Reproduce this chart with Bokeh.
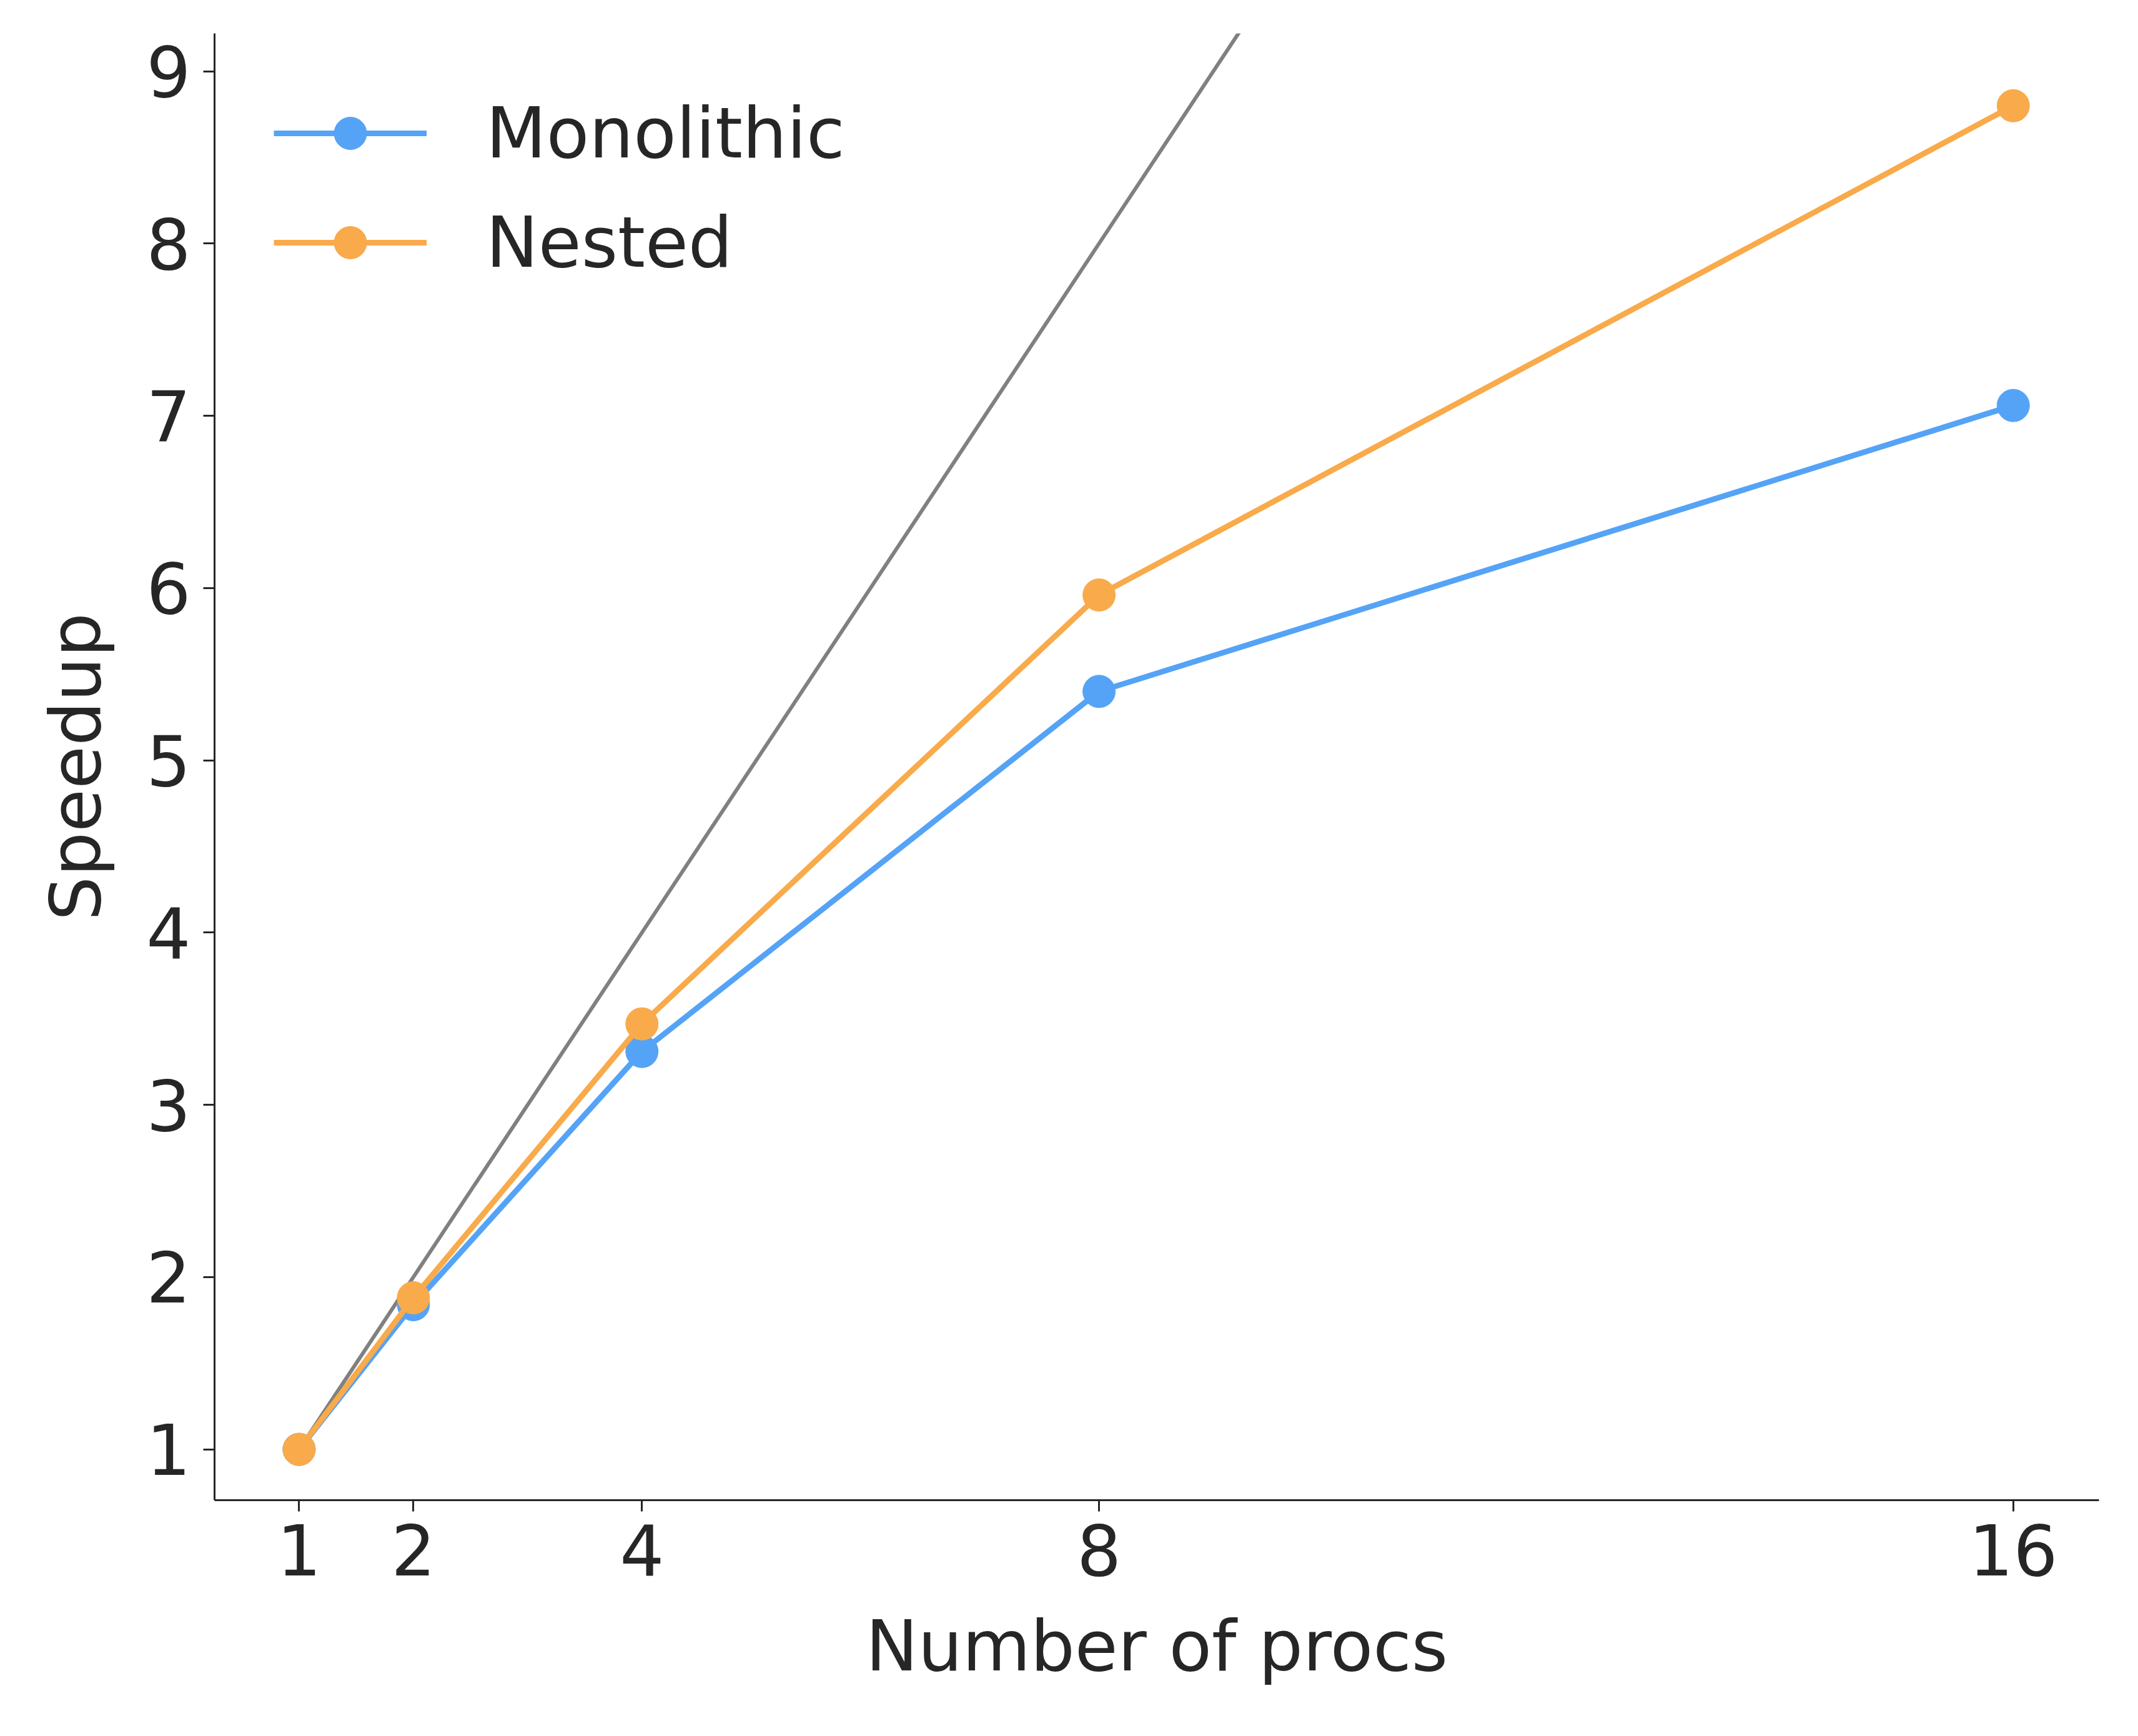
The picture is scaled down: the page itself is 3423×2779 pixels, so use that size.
from bokeh.plotting import figure
from bokeh.models import FixedTicker, Range1d, Legend, LegendItem
from bokeh.embed import file_html
from bokeh.resources import INLINE

procs = [1, 2, 4, 8, 16]
monolithic = [1.0, 1.84, 3.31, 5.40, 7.06]
nested = [1.0, 1.88, 3.47, 5.96, 8.80]
ideal_x = [1, 10]
ideal_y = [1, 10]
yticks = [1, 2, 3, 4, 5, 6, 7, 8, 9]

W, H = 3407, 2763
p = figure(width=W, height=H, output_backend="svg", toolbar_location=None,
           x_range=Range1d(0.26, 16.75), y_range=Range1d(0.705, 9.22),
           min_border_left=343, min_border_right=47, min_border_top=53, min_border_bottom=362)
p.outline_line_color = None
p.grid.visible = False
p.background_fill_color = "white"

p.line(ideal_x, ideal_y, line_color="#808080", line_width=6)
blue = "#55a3f6"
orange = "#f9aa4a"
r1 = p.line(procs, monolithic, line_color=blue, line_width=9)
s1 = p.scatter(procs, monolithic, size=52, color=blue)
r2 = p.line(procs, nested, line_color=orange, line_width=9)
s2 = p.scatter(procs, nested, size=52, color=orange)

legend = Legend(items=[LegendItem(label="Monolithic", renderers=[r1, s1]),
                       LegendItem(label="Nested", renderers=[r2, s2])],
                location="top_left", border_line_color=None, background_fill_alpha=0,
                label_text_font="DejaVu Sans", label_text_font_size="112px",
                label_text_color="#262626", glyph_width=245, glyph_height=130,
                label_standoff=95, spacing=45, margin=95, padding=20)
p.add_layout(legend)

for ax in (p.xaxis, p.yaxis):
    ax.axis_line_width = 3
    ax.axis_line_color = "#262626"
    ax.major_tick_line_width = 3
    ax.major_tick_line_color = "#262626"
    ax.major_tick_out = 18
    ax.major_tick_in = 0
    ax.minor_tick_line_color = None
    ax.major_label_text_font = "DejaVu Sans"
    ax.major_label_text_font_size = "112px"
    ax.major_label_text_color = "#262626"
    ax.axis_label_text_font = "DejaVu Sans"
    ax.axis_label_text_font_size = "112px"
    ax.axis_label_text_color = "#262626"
    ax.axis_label_text_font_style = "normal"
    ax.major_label_standoff = 20
    ax.axis_label_standoff = 45

p.xaxis.ticker = FixedTicker(ticks=procs)
p.yaxis.ticker = FixedTicker(ticks=yticks)
p.xaxis.axis_label = "Number of procs"
p.yaxis.axis_label = "Speedup"

open("out.html", "w").write(file_html(p, INLINE))
